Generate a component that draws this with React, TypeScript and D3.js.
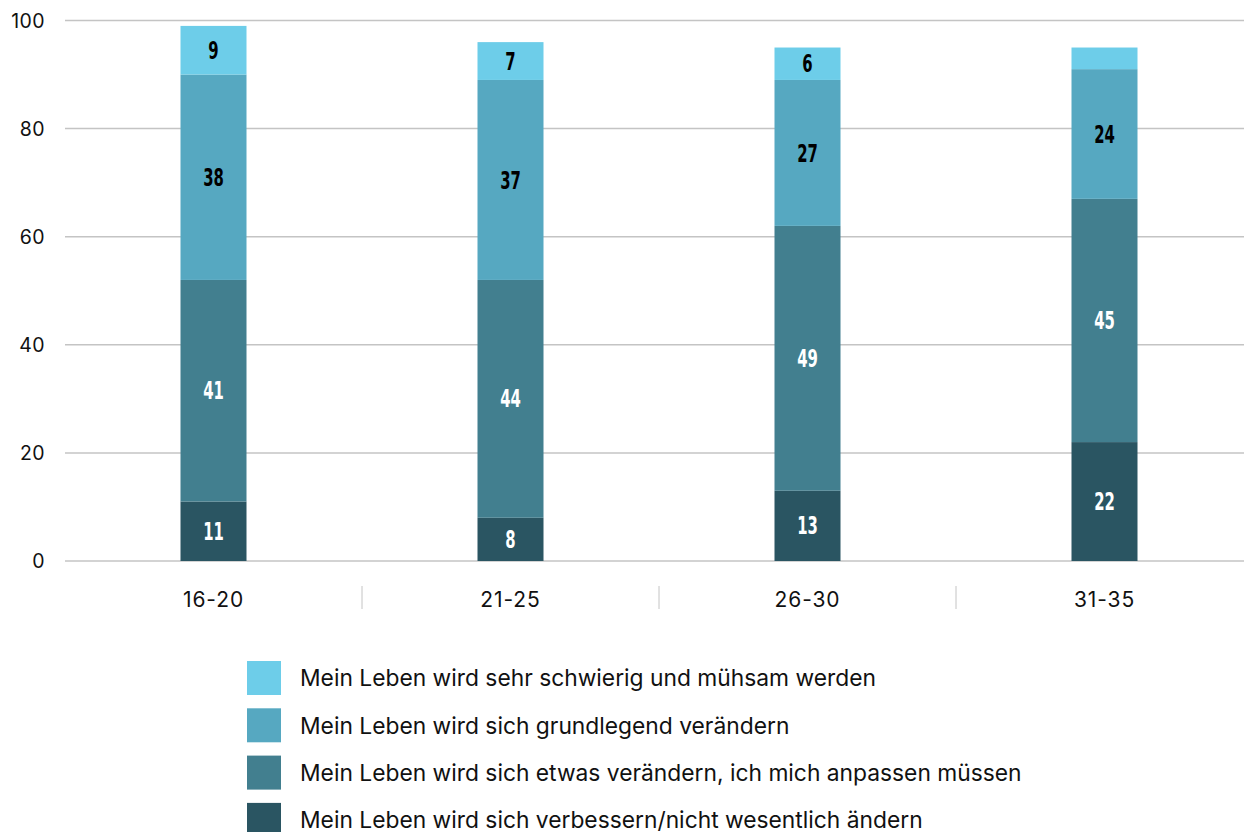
import React from "react";
import * as d3 from "d3";

const categories = ["16-20", "21-25", "26-30", "31-35"];
const seriesNames = [
  "Mein Leben wird sich verbessern/nicht wesentlich ändern",
  "Mein Leben wird sich etwas verändern, ich mich anpassen müssen",
  "Mein Leben wird sich grundlegend verändern",
  "Mein Leben wird sehr schwierig und mühsam werden",
];
const improveValues = [11, 8, 13, 22];
const adaptValues = [41, 44, 49, 45];
const fundamentalValues = [38, 37, 27, 24];
const difficultValues = [9, 7, 6, 4];
const labelShown = [
  [true, true, true, true],
  [true, true, true, true],
  [true, true, true, true],
  [true, true, true, false],
];
const colors = ["#2a5562", "#427f8f", "#56a8c1", "#6dcde9"];
const labelColors = ["#ffffff", "#ffffff", "#000000", "#000000"];
const yTicks = [0, 20, 40, 60, 80, 100];

export default function App() {
  const W = 1244, H = 832;
  const x = d3.scaleBand<string>().domain(categories).range([65, 1253]).padding(0);
  const y = d3.scaleLinear().domain([0, 100]).range([561, 20.5]);
  const barW = 66;
  const series = [improveValues, adaptValues, fundamentalValues, difficultValues];
  const data = categories.map((c, i) => {
    const o: any = { cat: c };
    series.forEach((s, k) => (o["s" + k] = s[i]));
    return o;
  });
  const stack = d3.stack<any>().keys(["s0", "s1", "s2", "s3"])(data);
  const legendOrder = [3, 2, 1, 0];
  const sans = "Inter, 'Noto Sans', sans-serif";

  return (
    <svg width={W} height={H} style={{ position: "absolute", left: 0, top: 0, background: "#fff" }}>
      {yTicks.map((t) => (
        <g key={t}>
          <line x1={65} x2={W} y1={y(t)} y2={y(t)} stroke="#c4c4c4" strokeWidth={1.5} />
          <text x={45} y={y(t)} dy="0.36em" textAnchor="end" fontFamily={sans} fontSize={19.5} letterSpacing={0.4} fill="#111">
            {t}
          </text>
        </g>
      ))}
      {stack.map((layer, k) =>
        layer.map((d, i) => {
          const cx = (x(categories[i]) as number) + x.bandwidth() / 2;
          const y0 = y(d[0]), y1 = y(d[1]);
          return (
            <g key={k + "-" + i}>
              <rect x={cx - barW / 2} y={y1} width={barW} height={y0 - y1} fill={colors[k]} />
              {labelShown[k][i] && (
                <text
                  x={cx}
                  y={(y0 + y1) / 2}
                  dy="0.36em"
                  textAnchor="middle"
                  fontFamily="'DejaVu Sans', sans-serif"
                  fontWeight="bold"
                  fontSize={24}
                  fill={labelColors[k]}
                  transform={`translate(${cx},0) scale(0.62,1) translate(${-cx},0)`}
                >
                  {series[k][i]}
                </text>
              )}
            </g>
          );
        })
      )}
      {categories.map((c, i) => {
        const cx = (x(c) as number) + x.bandwidth() / 2;
        return (
          <g key={c}>
            <text x={cx} y={607} textAnchor="middle" fontFamily={sans} fontSize={21} letterSpacing={0.9} fill="#111">
              {c}
            </text>
            {i > 0 && (
              <line x1={x(c) as number} x2={x(c) as number} y1={586} y2={609} stroke="#c4c4c4" strokeWidth={1} />
            )}
          </g>
        );
      })}
      {legendOrder.map((k, j) => {
        const ly = 661 + j * 47.3;
        return (
          <g key={k}>
            <rect x={247} y={ly} width={34} height={34} fill={colors[k]} />
            <text x={300} y={ly + 17} dy="0.36em" fontFamily={sans} fontSize={22.8} fill="#111">
              {seriesNames[k]}
            </text>
          </g>
        );
      })}
    </svg>
  );
}
